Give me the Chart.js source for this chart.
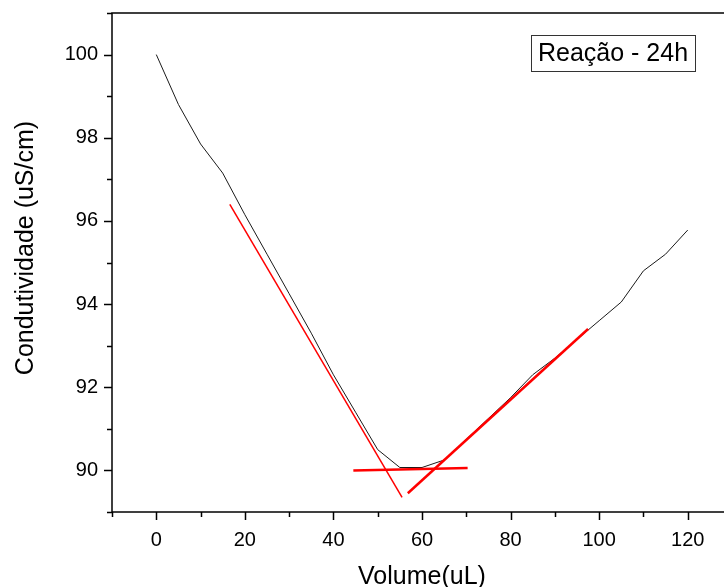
<!DOCTYPE html>
<html><head><meta charset="utf-8">
<script src="https://cdn.jsdelivr.net/npm/chart.js@4.4.1/dist/chart.umd.min.js"></script>
<style>
html,body{margin:0;padding:0;overflow:hidden;background:#fff;width:724px;height:587px}
#wrap{position:absolute;left:0;top:0;width:760px;height:587px}
</style>
</head><body><div id="wrap"><canvas id="c" width="760" height="587"></canvas></div>
<script>
// ---- data ----
const volume       = [0, 5, 10, 15, 20, 25, 30, 35, 40, 45, 50, 55, 60, 65, 70, 75, 80, 85, 90, 95, 100, 105, 110, 115, 120];
const conductivity = [100, 98.8, 97.85, 97.15, 96.15, 95.2, 94.25, 93.3, 92.3, 91.4, 90.5, 90.07, 90.07, 90.25, 90.75, 91.25, 91.75, 92.3, 92.7, 93.15, 93.6, 94.05, 94.8, 95.2, 95.78];
const fitDescX = [16.6, 55.5];  const fitDescY = [96.4, 89.35];
const fitBaseX = [44.5, 70.3];  const fitBaseY = [90.0, 90.06];
const fitAscX  = [56.8, 97.5];  const fitAscY  = [89.45, 93.4];
const xMajorTicks = [0, 20, 40, 60, 80, 100, 120];
const xMinorTicks = [-10, 10, 30, 50, 70, 90, 110, 130];
const yMajorTicks = [90, 92, 94, 96, 98, 100];
const yMinorTicks = [89, 91, 93, 95, 97, 99, 101];
const xTitle = 'Volume(uL)';
const yTitle = 'Condutividade (uS/cm)';
const legendLabel = 'Reação - 24h';

const FONT = '"Liberation Sans", Arial, sans-serif';
const pts = (xs, ys) => xs.map((v, i) => ({x: v, y: ys[i]}));

const framePlugin = {
  id: 'frame',
  afterDraw(chart) {
    const {ctx, chartArea: a, scales: {x, y}} = chart;
    ctx.save();
    ctx.strokeStyle = '#000';
    ctx.lineWidth = 1.5;
    ctx.strokeRect(a.left, a.top, a.right - a.left, a.bottom - a.top);
    ctx.beginPath();
    const tx = (list, len) => list.forEach(v => { const p = Math.round(x.getPixelForValue(v)) + 0.5; ctx.moveTo(p, a.bottom); ctx.lineTo(p, a.bottom + len); });
    const ty = (list, len) => list.forEach(v => { const p = Math.round(y.getPixelForValue(v)) + 0.5; ctx.moveTo(a.left, p); ctx.lineTo(a.left - len, p); });
    tx(xMajorTicks, 8); tx(xMinorTicks, 5);
    ty(yMajorTicks, 8); ty(yMinorTicks, 5);
    ctx.stroke();
    // axis titles
    ctx.fillStyle = '#000';
    ctx.font = '25px ' + FONT;
    ctx.textAlign = 'center';
    ctx.textBaseline = 'middle';
    ctx.fillText(xTitle, x.getPixelForValue(60), 577);
    ctx.save();
    ctx.translate(26, 248);
    ctx.rotate(-Math.PI / 2);
    ctx.fillText(yTitle, 0, 0);
    ctx.restore();
    // legend box
    ctx.font = '25px ' + FONT;
    const bx = 531, by = 35, bw = 164, bh = 36;
    ctx.fillStyle = '#fff';
    ctx.fillRect(bx, by, bw, bh);
    ctx.lineWidth = 1;
    ctx.strokeStyle = '#333';
    ctx.strokeRect(bx + 0.5, by + 0.5, bw, bh);
    ctx.fillStyle = '#000';
    ctx.fillText(legendLabel, bx + bw / 2, by + bh / 2 + 1);
    ctx.restore();
  }
};

new Chart(document.getElementById('c'), {
  type: 'scatter',
  data: {
    datasets: [
      {data: pts(fitDescX, fitDescY), showLine: true, borderColor: '#ff0000', borderWidth: 1.5, pointRadius: 0, order: 1},
      {data: pts(fitBaseX, fitBaseY), showLine: true, borderColor: '#ff0000', borderWidth: 2.5, pointRadius: 0, order: 1},
      {data: pts(fitAscX, fitAscY),   showLine: true, borderColor: '#ff0000', borderWidth: 2.5, pointRadius: 0, order: 1},
      {data: pts(volume, conductivity), showLine: true, borderColor: '#1a1a1a', borderWidth: 1, pointRadius: 0, tension: 0, order: 10}
    ]
  },
  options: {
    responsive: false,
    animation: false,
    devicePixelRatio: 1,
    layout: {padding: {top: 13, right: 28, left: 0, bottom: 0}},
    plugins: {legend: {display: false}, tooltip: {enabled: false}},
    scales: {
      x: {
        type: 'linear', min: -10, max: 130,
        grid: {display: false, drawTicks: false},
        border: {display: false},
        afterBuildTicks: s => { s.ticks = xMajorTicks.map(v => ({value: v})); },
        afterFit: s => { s.height = 75; s.paddingLeft = 0; s.paddingRight = 0; },
        ticks: {font: {family: FONT, size: 20}, color: '#000', padding: 16, maxRotation: 0}
      },
      y: {
        type: 'linear', min: 89, max: 101,
        grid: {display: false, drawTicks: false},
        border: {display: false},
        afterBuildTicks: s => { s.ticks = yMajorTicks.map(v => ({value: v})); },
        afterFit: s => { s.width = 112; s.paddingTop = 0; s.paddingBottom = 0; },
        ticks: {font: {family: FONT, size: 20}, color: '#000', padding: 14}
      }
    }
  },
  plugins: [framePlugin]
});
</script>
</body></html>
